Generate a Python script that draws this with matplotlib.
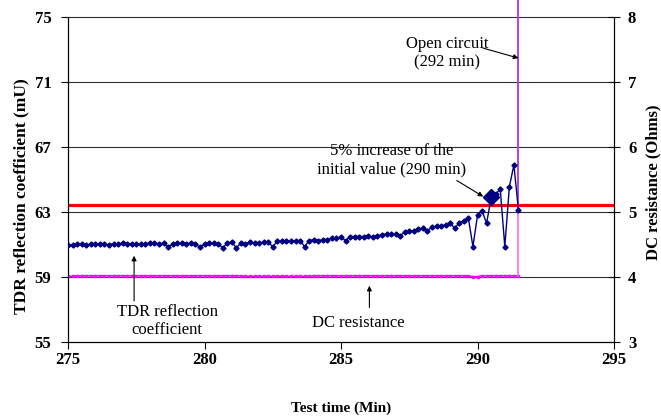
import numpy as np
import matplotlib
matplotlib.use('Agg')
import matplotlib.pyplot as plt

plt.rcParams['font.family'] = ['Liberation Serif', 'DejaVu Serif']

# readings every 10 s, from 275 min until the open circuit
time_min = np.round(np.arange(275, 291.55, 1 / 6), 3)

tdr_mU = [60.97, 60.98, 61.00, 61.00, 60.99, 61.01, 61.00, 61.02, 61.00, 60.99,
          61.04, 61.05, 61.07, 61.06, 61.05, 61.04, 61.03, 61.06, 61.08, 61.07,
          61.05, 61.07, 60.83, 61.05, 61.07, 61.08, 61.06, 61.07, 61.02, 60.83,
          61.05, 61.10, 61.07, 61.04, 60.80, 61.08, 61.14, 60.80, 61.08, 61.04,
          61.14, 61.10, 61.10, 61.14, 61.14, 60.87, 61.20, 61.20, 61.20, 61.20,
          61.22, 61.24, 60.87, 61.24, 61.30, 61.24, 61.30, 61.30, 61.40, 61.41,
          61.45, 61.24, 61.49, 61.49, 61.49, 61.49, 61.55, 61.45, 61.55, 61.60,
          61.65, 61.62, 61.62, 61.55, 61.76, 61.86, 61.82, 61.96, 62.00, 61.86,
          62.07, 62.12, 62.15, 62.20, 62.30, 62.00, 62.35, 62.45, 62.60, 60.87,
          62.80, 63.06, 62.30, 63.90, 64.10, 64.40, 60.87, 64.55, 65.90, 63.10]

dc_ohm = [4.01, 4.01, 4.02, 4.02, 4.02, 4.02, 4.02, 4.02, 4.02, 4.02,
          4.02, 4.02, 4.02, 4.02, 4.02, 4.02, 4.02, 4.02, 4.02, 4.02,
          4.02, 4.02, 4.02, 4.02, 4.02, 4.02, 4.02, 4.02, 4.02, 4.02,
          4.02, 4.02, 4.02, 4.02, 4.02, 4.02, 4.02, 4.02, 4.02, 4.01,
          4.01, 4.01, 4.01, 4.01, 4.01, 4.01, 4.01, 4.01, 4.01, 4.01,
          4.01, 4.01, 4.01, 4.01, 4.02, 4.02, 4.02, 4.02, 4.02, 4.02,
          4.02, 4.02, 4.02, 4.02, 4.02, 4.02, 4.02, 4.02, 4.02, 4.02,
          4.02, 4.02, 4.02, 4.02, 4.02, 4.02, 4.02, 4.02, 4.02, 4.02,
          4.02, 4.02, 4.02, 4.02, 4.02, 4.02, 4.02, 4.02, 4.02, 4.005,
          4.005, 4.02, 4.02, 4.02, 4.02, 4.02, 4.02, 4.02, 4.02, 4.02]

# open circuit: both readings go off scale
open_time = 291.5
tdr_open = 76.1
dc_open = 8.27

threshold_mU = 63.45   # 5% increase of the initial value
flag_idx = 93          # 290.5 min

navy = '#000080'
pink = '#ff00ff'

fig = plt.figure(figsize=(6.61, 4.19), dpi=100)
ax = fig.add_axes([0.1029, 0.1838, 0.8260, 0.7756])
ax2 = ax.twinx()
ax.set_zorder(ax2.get_zorder() + 1)
ax.patch.set_visible(False)

ax.set_xlim(275, 295)
ax.set_ylim(55, 75)
ax2.set_ylim(3, 8)
ax.set_xticks([275, 280, 285, 290, 295])
ax.set_yticks([55, 59, 63, 67, 71, 75])
ax2.set_yticks([3, 4, 5, 6, 7, 8])

for y in [59, 63, 67, 71, 75]:
    ax2.axhline(3 + (y - 55) / 4, color='#303030', lw=0.8, zorder=0, clip_on=False)

ax.axhline(threshold_mU, color='red', lw=2.3, zorder=1)

ax2.plot(time_min, dc_ohm, color=pink, lw=1.1, marker='s', ms=2.0, zorder=2)
ax2.plot([open_time, open_time], [dc_ohm[-1], dc_open], color='#ff66ff',
         lw=1.2, clip_on=False)

ax.plot(time_min, tdr_mU, color=navy, lw=1.0, marker='D', ms=2.6, zorder=3)
ax.plot([open_time, open_time], [tdr_mU[-1], tdr_open], color='#b040d8',
        lw=1.3, clip_on=False, zorder=2)
ax.plot(time_min[flag_idx], tdr_mU[flag_idx], 'D', color=navy, ms=8, zorder=4)

arrow = dict(arrowstyle='-|>', color='black', lw=0.8, mutation_scale=7,
             shrinkA=0, shrinkB=0)

ax.text(288.88, 72.78, 'Open circuit\n(292 min)', ha='center', va='center',
        fontsize=12, linespacing=1.2)
ax.annotate('', xy=(291.5, 72.47), xytext=(290.2, 73.09), arrowprops=arrow)

ax.text(286.87, 66.17, '5% increase of the\ninitial value (290 min)',
        ha='center', va='center', fontsize=12, linespacing=1.2)
ax.annotate('', xy=(290.21, 63.95), xytext=(289.24, 64.94), arrowprops=arrow)

ax.text(278.63, 56.3, 'TDR reflection\ncoefficient', ha='center', va='center',
        fontsize=12, linespacing=1.2)
ax.annotate('', xy=(277.42, 60.31), xytext=(277.42, 57.53), arrowprops=arrow)

ax.text(285.62, 56.17, 'DC resistance', ha='center', va='center', fontsize=12)
ax.annotate('', xy=(286.04, 58.46), xytext=(286.04, 57.12), arrowprops=arrow)

for a in (ax, ax2):
    a.spines['top'].set_visible(False)
ax.tick_params(axis='x', direction='out', length=5, pad=2, labelsize=12)
ax.tick_params(axis='y', direction='out', length=5, pad=7, labelsize=12)
ax2.tick_params(axis='y', direction='inout', length=8, pad=6, labelsize=12)
for lab in ax.get_xticklabels() + ax.get_yticklabels() + ax2.get_yticklabels():
    lab.set_fontweight('bold')

ax.set_xlabel('Test time (Min)', fontsize=11, fontweight='bold', labelpad=24)
ax.set_ylabel('TDR reflection coefficient (mU)', fontsize=12.5, fontweight='bold')
ax.yaxis.set_label_coords(-0.07, 0.45)
ax2.set_ylabel('DC resistance (Ohms)', fontsize=12, fontweight='bold')
ax2.yaxis.set_label_coords(1.058, 0.49)

fig.savefig('out.png', dpi=100)
